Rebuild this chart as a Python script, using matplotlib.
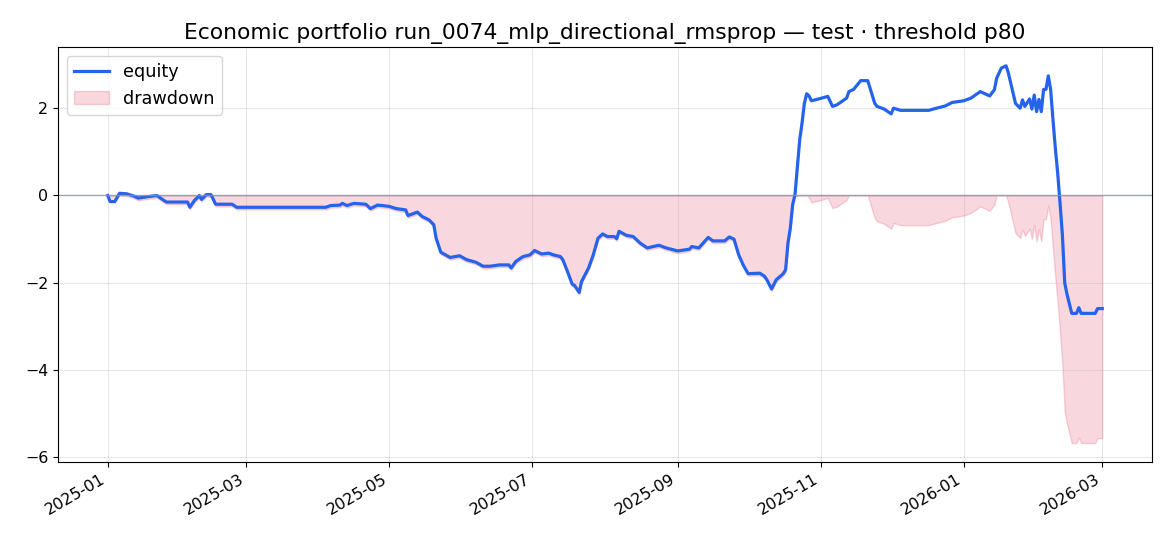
import numpy as np
import pandas as pd
import matplotlib
matplotlib.use("Agg")
import matplotlib.pyplot as plt
import matplotlib.dates as mdates

# equity curve (day offset from 2025-01-01, value)
start_date = "2025-01-01"
day_offsets = [
    0, 1, 3, 5, 8, 11, 13, 18, 21, 23, 25, 34, 35, 37, 38, 39, 40, 42, 44, 46,
    53, 55, 93, 95, 99, 100, 102, 105, 110, 112, 115, 117, 120, 123, 127, 128,
    132, 134, 137, 139, 140, 142, 144, 146, 150, 153, 157, 160, 163, 167, 171,
    172, 174, 177, 180, 182, 185, 188, 190, 193, 194, 196, 198, 199, 201, 202,
    205, 207, 209, 211, 213, 216, 217, 218, 221, 224, 227, 230, 235, 238, 243,
    248, 249, 252, 256, 258, 263, 265, 267, 269, 271, 273, 278, 280, 281, 283,
    285, 288, 289, 290, 291, 292, 293, 295, 296, 297, 298, 299, 300, 303, 307,
    309, 311, 315, 316, 318, 321, 324, 325, 327, 328, 331, 334, 335, 338, 350,
    352, 357, 360, 365, 368, 372, 376, 378, 379, 381, 383, 384, 386, 387, 389,
    390, 391, 393, 394, 395, 396, 397, 398, 399, 400, 401, 402, 403, 404, 405,
    406, 407, 408, 409, 411, 413, 414, 415, 421, 422, 424,
]
equity = [
    0.00, -0.14, -0.14, 0.05, 0.04, -0.01, -0.06, -0.02, 0.00, -0.08, -0.15,
    -0.15, -0.27, -0.11, -0.06, 0.00, -0.09, 0.02, 0.02, -0.20,
    -0.20, -0.27, -0.27, -0.23, -0.22, -0.18, -0.23, -0.18, -0.20, -0.30,
    -0.22, -0.23, -0.25, -0.30, -0.33, -0.46,
    -0.38, -0.48, -0.56, -0.67, -0.98, -1.30, -1.36, -1.42, -1.38, -1.47,
    -1.53, -1.62, -1.62, -1.59, -1.59,
    -1.66, -1.51, -1.40, -1.36, -1.26, -1.34, -1.32, -1.36, -1.40, -1.47,
    -1.74, -2.03, -2.06, -2.22, -1.97,
    -1.66, -1.36, -0.98, -0.88, -0.94, -0.94, -0.99, -0.82, -0.91, -0.94,
    -1.09, -1.20, -1.14, -1.20, -1.27,
    -1.23, -1.17, -1.20, -0.96, -1.04, -1.04, -0.95, -1.00, -1.36, -1.60,
    -1.79, -1.78, -1.85, -1.93, -2.14,
    -1.93, -1.79, -1.70, -1.09, -0.75, -0.21, 0.02, 1.27, 1.66, 2.11, 2.33,
    2.28, 2.17, 2.21, 2.27,
    2.04, 2.08, 2.23, 2.38, 2.43, 2.63, 2.63, 2.46, 2.11, 2.04, 1.98, 1.87,
    2.00, 1.95, 1.95,
    1.98, 2.05, 2.13, 2.17, 2.23, 2.38, 2.28, 2.42, 2.69, 2.92, 2.97, 2.80,
    2.34, 2.11, 2.00,
    2.19, 2.04, 2.21, 1.98, 2.30, 1.92, 2.20, 1.92, 2.43, 2.43, 2.74, 2.42,
    1.73, 1.08, 0.51,
    -0.17, -0.90, -2.00, -2.27, -2.70, -2.70, -2.57, -2.70, -2.70, -2.59, -2.59,
]

title = "Economic portfolio run_0074_mlp_directional_rmsprop \u2014 test \u00b7 threshold p80"

dates = pd.Timestamp(start_date) + pd.to_timedelta(day_offsets, unit="D")
eq = np.array(equity)
drawdown = eq - np.maximum.accumulate(eq)

fig, ax = plt.subplots(figsize=(11.7, 5.46), dpi=100)

ax.plot(dates, eq, color="#2563eb", linewidth=2.3, label="equity")
ax.fill_between(dates, drawdown, 0, color="crimson", alpha=0.17, label="drawdown")
ax.axhline(0, color="#8a94a0", linewidth=1.0, alpha=0.8)

ax.set_title(title, fontsize=15.7)
ax.grid(True, alpha=0.3)
ax.legend(loc="upper left", fontsize=12.7)

ax.xaxis.set_major_locator(mdates.MonthLocator(bymonth=[1, 3, 5, 7, 9, 11]))
ax.xaxis.set_major_formatter(mdates.DateFormatter("%Y-%m"))
ax.tick_params(labelsize=11.4)
fig.autofmt_xdate()
fig.subplots_adjust(left=0.0496, right=0.9846, bottom=0.154, top=0.914)

fig.savefig("out.png", dpi=100)
